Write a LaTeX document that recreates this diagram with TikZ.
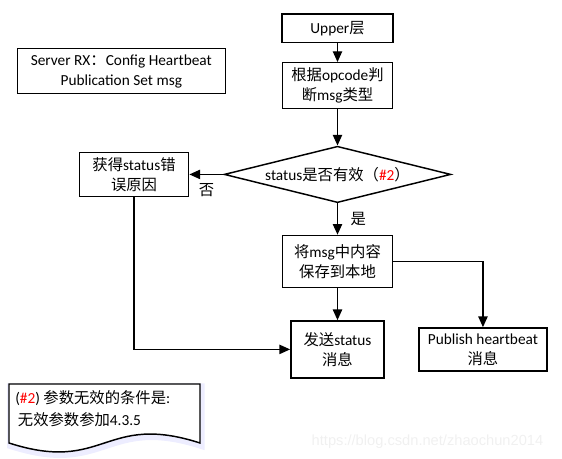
\documentclass[tikz,border=0pt]{standalone}
\usepackage{fontspec}
\setmainfont{Carlito}
\newfontfamily\cjk{Noto Sans CJK SC}
\newfontfamily\wmfont{Liberation Sans}
\newcommand\zh[1]{{\cjk #1}}
\usetikzlibrary{arrows.meta,positioning,shapes.geometric}
\tikzset{
  box/.style={draw, line width=1.1pt, align=center, inner sep=0pt},
  arr/.style={-{Triangle[length=8pt,width=7pt]}, line width=0.9pt},
}

\begin{document}
\begin{tikzpicture}[x=0.75pt, y=-0.75pt, font=\fontsize{11.5}{15}\selectfont]
\useasboundingbox (0,0) rectangle (562,459);

\node (server) [box, minimum width=156pt, minimum height=34pt] at (121.3,71)
      {Server RX\zh{：}Config Heartbeat\\Publication Set msg};

\node (upper) [box, minimum width=83.25pt, minimum height=21.5pt] at (337.5,28.3) {Upper\zh{层}};
\node (judge) [box, below = 14pt of upper, minimum width=82.5pt, minimum height=34.5pt]
      {\zh{根据}opcode\zh{判}\\\zh{断}msg\zh{类型}};
\node (valid) [draw, diamond, aspect=4, line width=1.1pt, inner sep=0pt, below = 27pt of judge,
      minimum width=170pt, minimum height=42.3pt]
      {status\zh{是否有效（}\textcolor{red}{\#2}\zh{）}};
\node (err)   [box, left = 25.5pt of valid, minimum width=82pt, minimum height=33.2pt]
      {\zh{获得}status\zh{错}\\\zh{误原因}};
\node (save)  [box, below = 23.5pt of valid, minimum width=82.5pt, minimum height=39pt]
      {\zh{将}msg\zh{中内容}\\\zh{保存到本地}};
\node (send)  [box, below = 24pt of save, minimum width=70pt, minimum height=42.75pt]
      {\zh{发送}status\\\zh{消息}};
\node (pub)   [box, right = 25pt of send, minimum width=96pt, minimum height=32.25pt]
      {Publish heartbeat\\\zh{消息}};

\draw[arr] (upper) -- (judge);
\draw[arr] (judge) -- (valid);
\draw[arr] (valid.west) -- node[below, yshift=-3pt] {\zh{否}} (err.east);
\draw[arr] (valid.south) -- node[right, xshift=6pt] {\zh{是}} (save.north);
\draw[arr] (save) -- (send);
\draw[arr] (err.south) |- (send.west);
\draw[arr] (save.east) -| (pub.north);

% note with wavy bottom
\draw[line width=1.1pt, fill=white,
      preaction={draw=blue!7, line width=5pt, transform canvas={xshift=1pt, yshift=-2pt}}]
  (9,384) -- (200,384) -- (200,443)
  .. controls (104,412) and (105,474) .. (9,443) -- cycle;
\node (note) [anchor=north west, align=left, inner sep=0pt,
      font=\fontsize{11.5}{17}\selectfont] at (15,390)
      {(\textcolor{red}{\#2}) \zh{参数无效的条件是}:\\\hspace*{2pt}\zh{无效参数参加}4.3.5};

\node (mark) [text=black!6, font=\wmfont\fontsize{11}{13}\selectfont] at (427.5,442)
      {https://blog.csdn.net/zhaochun2014};
\end{tikzpicture}
\end{document}
